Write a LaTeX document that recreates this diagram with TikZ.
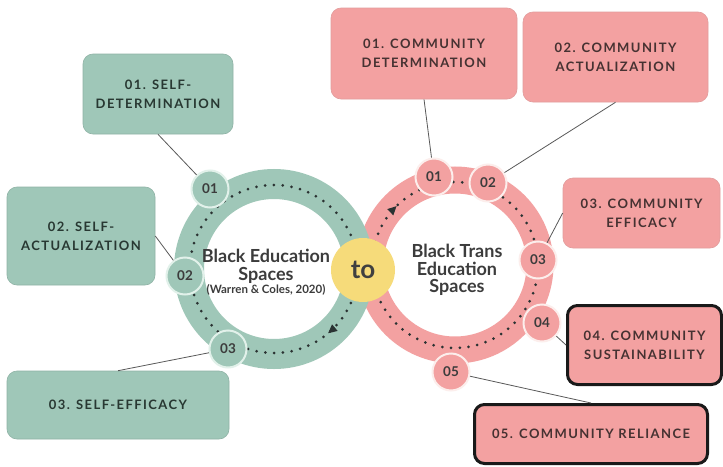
\documentclass[tikz,border=0pt]{standalone}
\usepackage{fontspec}
\setmainfont{Lato}
\newfontfamily\capsfont[LetterSpace=11]{Lato}
\usetikzlibrary{arrows.meta,decorations.markings}

\definecolor{sage}{RGB}{159,199,184}
\definecolor{sageedge}{RGB}{226,241,234}
\definecolor{sageink}{RGB}{40,56,50}
\definecolor{rose}{RGB}{243,161,161}
\definecolor{roseedge}{RGB}{252,238,236}
\definecolor{roseink}{RGB}{70,50,50}
\definecolor{sun}{RGB}{246,219,122}
\definecolor{dotink}{RGB}{42,50,50}
\definecolor{ringink}{RGB}{60,60,60}

\begin{document}
\begin{tikzpicture}[x=1pt, y=-1pt,
  dots/.style={draw=dotink, line width=3pt, line cap=round, dash pattern=on 0pt off 8.8pt},
  numdot/.style={circle, minimum size=37pt, inner sep=0pt, line width=2pt,
    font=\bfseries\fontsize{13.5}{13.5}\selectfont, text=ringink},
  selfdot/.style={numdot, fill=sage, draw=sageedge},
  commdot/.style={numdot, fill=rose, draw=roseedge},
  card/.style={rounded corners=10pt, align=center, inner sep=0pt,
    font=\capsfont\bfseries\fontsize{13}{19}\selectfont},
  selfcard/.style={card, fill=sage, draw=sage!90!black, line width=0.6pt, text=sageink},
  commcard/.style={card, fill=rose, draw=rose!85!gray, line width=0.6pt, text=roseink},
  boldcard/.style={card, fill=rose, draw=black!90, line width=3pt, text=roseink},
  leader/.style={draw=black!65, line width=0.8pt}]

  \fill[white] (0,0) rectangle (723,466);
  \useasboundingbox (0,0) rectangle (723,466);

  \coordinate (lc) at (274,269);
  \coordinate (rc) at (455,265);

  % the two loops
  \draw[rose, line width=27pt] (rc) circle [radius=85pt];
  \draw[sage, line width=30pt] (lc) circle [radius=85pt];
  \draw[dots, postaction={decorate}, decoration={markings,
    mark=at position 0.374 with {\arrowreversed[fill=dotink]{Triangle[length=9pt,width=8pt]}}}]
    (rc) circle [radius=83pt];
  \draw[dots, postaction={decorate}, decoration={markings,
    mark=at position 0.861 with {\arrowreversed[fill=dotink]{Triangle[length=9pt,width=8pt]}}}]
    (lc) circle [radius=84pt];

  \node[circle, fill=sun, minimum size=64pt, inner sep=0pt, text=black!75,
    font=\bfseries\fontsize{26}{26}\selectfont] (to) at (363,270) {to};

  \node[align=center, text=ringink, font=\bfseries\fontsize{18}{18}\selectfont] (bes) at (266,272)
    {Black Education\\Spaces\\[-5pt]{\fontsize{11.5}{12}\selectfont(Warren \& Coles, 2020)}};
  \node[align=center, text=ringink, font=\bfseries\fontsize{18}{17.5}\selectfont] (btes) at (457,270)
    {Black Trans\\Education\\Spaces};

  % numbered stops
  \foreach \n/\x/\y in {01/210/189, 02/185/276, 03/228/349}
    \node[selfdot] (l\n) at (\x,\y) {\n};
  \foreach \n/\x/\y in {01/434/177, 02/488/183, 03/538/260, 04/542/323, 05/451/372}
    \node[commdot] (r\n) at (\x,\y) {\n};

  % labels
  \node[selfcard, minimum width=150pt, minimum height=80pt] (sd) at (158,94) {01. SELF-\\DETERMINATION};
  \node[selfcard, minimum width=148pt, minimum height=98pt] (sa) at (81,236) {02. SELF-\\ACTUALIZATION};
  \node[selfcard, minimum width=222pt, minimum height=68pt] (se) at (118,405) {03. SELF-EFFICACY};
  \node[commcard, minimum width=186pt, minimum height=91pt] (cd) at (424,53.5) {01. COMMUNITY\\DETERMINATION};
  \node[commcard, minimum width=185pt, minimum height=90pt] (ca) at (615.5,57) {02. COMMUNITY\\ACTUALIZATION};
  \node[commcard, minimum width=157pt, minimum height=70pt] (ce) at (641.5,213) {03. COMMUNITY\\EFFICACY};
  \node[boldcard, minimum width=154pt, minimum height=79pt] (cs) at (644.5,345) {04. COMMUNITY\\SUSTAINABILITY};
  \node[boldcard, minimum width=233pt, minimum height=59pt] (cr) at (591,434) {05. COMMUNITY RELIANCE};

  \foreach \a/\b in {sd.south/l01, sa.east/l02, se.north/l03, cd.south/r01,
                     ca.south/r02, ce.west/r03, cs.west/r04, cr.north/r05}
    \draw[leader] (\a) -- (\b);
\end{tikzpicture}
\end{document}
